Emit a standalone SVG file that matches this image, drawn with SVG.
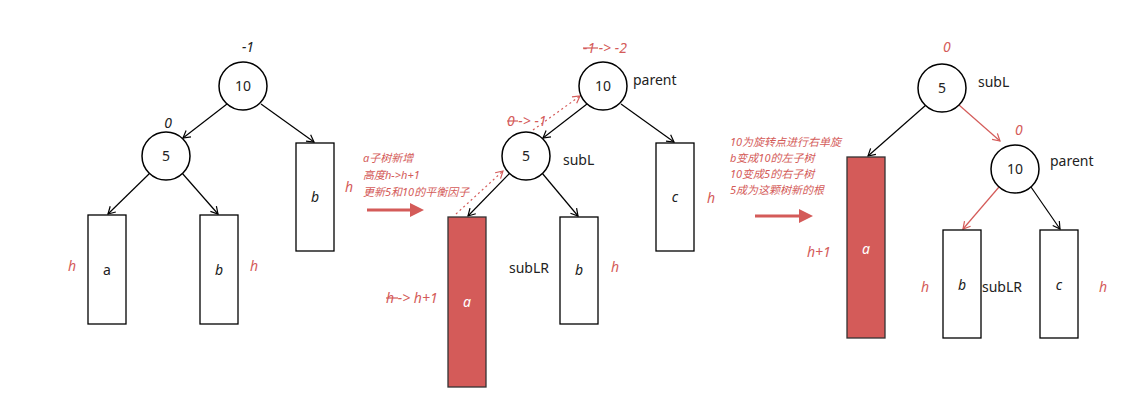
<svg xmlns="http://www.w3.org/2000/svg" width="1136" height="415" viewBox="0 0 1136 415">
<style>
text{font-family:"Noto Sans","Noto Sans CJK SC",sans-serif}
.n{fill:#fff;stroke:#000;stroke-width:1.5}
.bx{fill:#fff;stroke:#000;stroke-width:1.3}
.rb{fill:#d45b59;stroke:#333;stroke-width:1.3}
.t{font-size:14px;fill:#222;text-anchor:middle}
.it{font-size:14px;font-style:italic;fill:#222;text-anchor:middle}
.lb{font-size:14px;fill:#222}
.r{font-size:14px;font-style:italic;fill:#d45b59}
.rs{font-size:11px;font-style:italic;fill:#d45b59}
.e{stroke:#000;stroke-width:1.2;fill:none;marker-end:url(#ab)}
.er{stroke:#d45b59;stroke-width:1.2;fill:none;marker-end:url(#ar)}
.ed{stroke:#d45b59;stroke-width:1.2;fill:none;stroke-dasharray:2 3;marker-end:url(#ar)}
.big{stroke:#d45b59;stroke-width:3;fill:none;marker-end:url(#abig)}
</style>
<defs>
<marker id="ab" markerWidth="10" markerHeight="10" refX="8" refY="5" orient="auto" markerUnits="userSpaceOnUse"><path d="M1,1 L8,5 L1,9" fill="none" stroke="#000" stroke-width="1.2"/></marker>
<marker id="ar" markerWidth="10" markerHeight="10" refX="8" refY="5" orient="auto" markerUnits="userSpaceOnUse"><path d="M1,1 L8,5 L1,9" fill="none" stroke="#d45b59" stroke-width="1.2"/></marker>
<marker id="abig" markerWidth="14" markerHeight="14" refX="2" refY="7" orient="auto" markerUnits="userSpaceOnUse"><path d="M0,0 L14,7 L0,14 Z" fill="#d45b59"/></marker>
</defs>
<g id="connectors">
<line class="e" x1="227" y1="104" x2="183" y2="138"/>
<line class="e" x1="261" y1="104" x2="314" y2="142"/>
<line class="e" x1="150" y1="173" x2="108" y2="214"/>
<line class="e" x1="182" y1="173" x2="218" y2="214"/>
<line class="e" x1="587" y1="104" x2="543" y2="138"/>
<line class="e" x1="621" y1="104" x2="674" y2="142"/>
<line class="e" x1="510" y1="173" x2="468" y2="216"/>
<line class="e" x1="542" y1="173" x2="578" y2="216"/>
<line class="ed" x1="456" y1="214" x2="503" y2="171"/>
<line class="ed" x1="533" y1="130" x2="580" y2="96"/>
<line class="big" x1="367" y1="210" x2="412" y2="210"/>
<line class="big" x1="755" y1="216" x2="801" y2="216"/>
<line class="e" x1="926" y1="105" x2="868" y2="156"/>
<line class="er" x1="959" y1="105" x2="1000" y2="141"/>
<line class="er" x1="999" y1="187" x2="963" y2="229"/>
<line class="e" x1="1031" y1="187" x2="1060" y2="229"/>
</g>
<g id="t1">
<g id="n10a"><circle class="n" cx="243" cy="86" r="24"/><text class="t" x="243" y="91">10</text></g>
<g id="n5a"><circle class="n" cx="166" cy="156" r="24"/><text class="t" x="166" y="161">5</text></g>
<text class="it" x="248" y="52">-1</text>
<text class="it" x="168" y="128">0</text>
<g id="ba"><rect class="bx" x="88" y="215" width="38" height="109"/><text class="t" x="107" y="275">a</text></g>
<g id="bb"><rect class="bx" x="200" y="215" width="38" height="109"/><text class="it" x="219" y="275">b</text></g>
<g id="bb2"><rect class="bx" x="296" y="143" width="38" height="108"/><text class="it" x="315" y="202">b</text></g>
<text class="r" x="68" y="271">h</text>
<text class="r" x="250" y="271">h</text>
<text class="r" x="345" y="192">h</text>
</g>
<g id="t2">
<text class="rs" x="363" y="162">a子树新增</text>
<text class="rs" x="363" y="179">高度h-&gt;h+1</text>
<text class="rs" x="363" y="196">更新5和10的平衡因子</text>
<g id="n10b"><circle class="n" cx="603" cy="86" r="24"/><text class="t" x="603" y="91">10</text></g>
<g id="n5b"><circle class="n" cx="526" cy="156" r="24"/><text class="t" x="526" y="161">5</text></g>
<text class="lb" x="633" y="85">parent</text>
<text class="lb" x="563" y="165">subL</text>
<text class="r" x="583" y="53">-1 -&gt; -2</text>
<line x1="583" y1="48" x2="598" y2="48" stroke="#d45b59" stroke-width="1.2"/>
<text class="r" x="507" y="126">0 -&gt; -1</text>
<line x1="507" y1="121" x2="518" y2="121" stroke="#d45b59" stroke-width="1.2"/>
<g id="ra"><rect class="rb" x="448" y="217" width="38" height="170"/><text class="it" x="467" y="307" fill="#fff" style="fill:#fff">a</text></g>
<g id="b2"><rect class="bx" x="560" y="217" width="38" height="107"/><text class="it" x="579" y="275">b</text></g>
<g id="c2"><rect class="bx" x="656" y="143" width="38" height="108"/><text class="it" x="675" y="202">c</text></g>
<text class="lb" x="509" y="273">subLR</text>
<text class="r" x="611" y="272">h</text>
<text class="r" x="707" y="203">h</text>
<text class="r" x="386" y="303">h -&gt; h+1</text>
<line x1="386" y1="298" x2="398" y2="298" stroke="#d45b59" stroke-width="1.2"/>
</g>
<g id="t3">
<text class="rs" x="730" y="146">10为旋转点进行右单旋</text>
<text class="rs" x="730" y="162">b变成10的左子树</text>
<text class="rs" x="730" y="178">10变成5的右子树</text>
<text class="rs" x="730" y="194">5成为这颗树新的根</text>
<g id="n5c"><circle class="n" cx="942" cy="88" r="24"/><text class="t" x="942" y="93">5</text></g>
<g id="n10c"><circle class="n" cx="1015" cy="169" r="24"/><text class="t" x="1015" y="174">10</text></g>
<text class="r" x="943" y="52">0</text>
<text class="r" x="1015" y="135">0</text>
<text class="lb" x="978" y="87">subL</text>
<text class="lb" x="1050" y="166">parent</text>
<g id="ra3"><rect class="rb" x="847" y="157" width="38" height="181"/><text class="it" x="866" y="254" style="fill:#fff">a</text></g>
<g id="b3"><rect class="bx" x="943" y="230" width="38" height="108"/><text class="it" x="962" y="290">b</text></g>
<g id="c3"><rect class="bx" x="1040" y="230" width="38" height="108"/><text class="it" x="1059" y="290">c</text></g>
<text class="lb" x="982" y="292">subLR</text>
<text class="r" x="921" y="292">h</text>
<text class="r" x="807" y="257">h+1</text>
<text class="r" x="1099" y="292">h</text>
</g>
</svg>
